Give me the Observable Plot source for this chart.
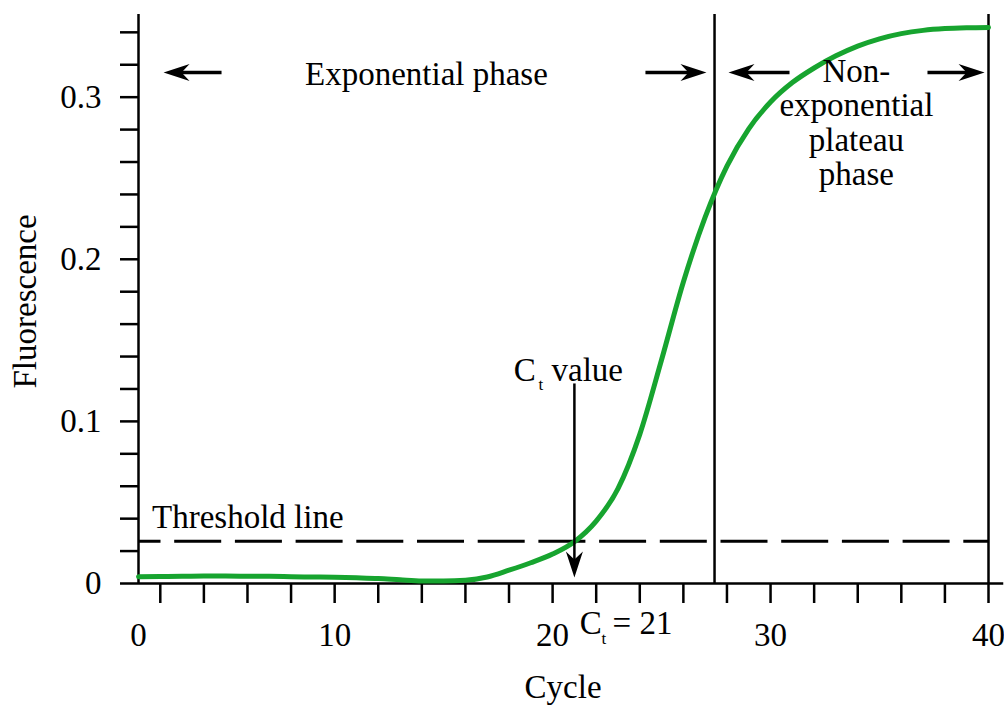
<!DOCTYPE html>
<html>
<head>
<meta charset="utf-8">
<script src="https://cdn.jsdelivr.net/npm/d3@7"></script>
<script src="https://cdn.jsdelivr.net/npm/@observablehq/plot@0.6"></script>
<style>
  html, body { margin: 0; padding: 0; background: #fff; }
</style>
</head>
<body>
<div id="chart"></div>
<script>
// ---- data ----
const cycles = [1,2,3,4,5,6,7,8,9,10,11,12,13,14,15,16,17,18,19,20,21,22,23,24,25,26,27,28,29,30,31,32,33,34,35,36,37,38,39,40];
const fluorescence = [0.0042,0.0043,0.0044,0.0046,0.0046,0.0045,0.0044,0.0042,0.0040,0.0038,
                      0.0035,0.0031,0.0023,0.0016,0.0015,0.0020,0.0040,0.0082,0.0128,0.0182,
                      0.0258,0.0385,0.0585,0.0920,0.1380,0.1860,0.2260,0.2575,0.2805,0.2970,
                      0.3090,0.3180,0.3255,0.3315,0.3360,0.3392,0.3412,0.3423,0.3428,0.3430];
const yTicks = [0,0.02,0.04,0.06,0.08,0.1,0.12,0.14,0.16,0.18,0.2,0.22,0.24,0.26,0.28,0.3,0.32,0.34];
const yTickLabels = [0,0.1,0.2,0.3];
const xTicks = [2,4,6,8,10,12,14,16,18,20,22,24,26,28,30,32,34,36,38,40];
const xTickLabels = [1,10,20,30,40];          // first cycle sits at the axis, labelled "0"
const threshold = 0.026;
const ctCycle = 21;
const phaseBoundaries = [27.43, 40];

// annotation arrows (tail -> tip), in data units
const phaseArrows = [
  {x1: 4.81, x2: 2.15, y: 0.3152, dir: "left"},
  {x1: 24.26, x2: 27.06, y: 0.3152, dir: "right"},
  {x1: 30.87, x2: 28.07, y: 0.3152, dir: "left"},
  {x1: 37.20, x2: 39.82, y: 0.3152, dir: "right"}
];
const ctArrow = [{x: ctCycle, y1: 0.1234, y2: 0.0037, dir: "down"}];

// annotation texts
const textsStart = [
  {text: "Threshold line", x: 1.62, y: 0.0408},
  {text: "C", x: 18.22, y: 0.1315},
  {text: "value", x: 19.95, y: 0.1315},
  {text: "C", x: 21.25, y: -0.0246},
  {text: "= 21", x: 22.75, y: -0.0246}
];
const textsMiddle = [
  {text: "Exponential phase", x: 14.21, y: 0.3141},
  {text: "Cycle", x: 20.48, y: -0.0640}
];
const subscripts = [
  {text: "t", x: 19.35, y: 0.1230},
  {text: "t", x: 22.24, y: -0.0337}
];
const plateauText = [{text: "Non-\nexponential\nplateau\nphase", x: 33.94, y: 0.2844}];
const yLabel = [{text: "Fluorescence", x: -4.19, y: 0.174}];

// ---- helpers ----
function dart(angleDeg) {
  const a = angleDeg * Math.PI / 180, L = 26, W = 8.5, N = 18;
  const pts = [[0, 0], [-L, -W], [-N, 0], [-L, W]].map(([x, y]) =>
    [x * Math.cos(a) - y * Math.sin(a), x * Math.sin(a) + y * Math.cos(a)]);
  return {
    draw(ctx) {
      ctx.moveTo(pts[0][0], pts[0][1]);
      for (let i = 1; i < pts.length; ++i) ctx.lineTo(pts[i][0], pts[i][1]);
      ctx.closePath();
    }
  };
}

const series = cycles.map((c, i) => ({cycle: c, value: fluorescence[i]}));
const black = "#000";
const green = "#17a42f";
const FS = 33;

const chart = Plot.plot({
  width: 1004,
  height: 705,
  marginLeft: 138,
  marginRight: 16,
  marginTop: 14,
  marginBottom: 122,
  x: {domain: [1, 40]},
  y: {domain: [0, 0.351]},
  style: {fontFamily: "'Liberation Serif', 'Times New Roman', serif", fontSize: FS + "px", background: "#fff", color: "#000"},
  marks: [
    // axes
    Plot.axisY(yTicks, {tickSize: 18, tickFormat: () => "", strokeWidth: 2.5, label: null}),
    Plot.axisY(yTickLabels, {tickSize: 0, tickPadding: 37, tickFormat: d => String(d), label: null, fontSize: FS}),
    Plot.axisX(xTicks, {tickSize: 20, tickFormat: () => "", strokeWidth: 2.5, label: null}),
    Plot.axisX(xTickLabels, {tickSize: 0, tickPadding: 39, tickFormat: d => d === 1 ? "0" : String(d), label: null, fontSize: FS}),
    Plot.ruleX([1], {y1: 0, y2: 0.351, stroke: black, strokeWidth: 2.5}),
    Plot.ruleY([0], {x1: 1, x2: 40.7, stroke: black, strokeWidth: 2.5}),
    // phase boundaries
    Plot.ruleX(phaseBoundaries, {y1: 0, y2: 0.351, stroke: black, strokeWidth: 2.5}),
    // threshold
    Plot.ruleY([threshold], {x1: 1, x2: 40, stroke: black, strokeWidth: 3, strokeDasharray: "47,13.7", strokeDashoffset: 24.5}),
    // amplification curve
    Plot.line(series, {x: "cycle", y: "value", curve: "monotone-x", stroke: green, strokeWidth: 5}),
    // arrows
    Plot.arrow(phaseArrows, {x1: "x1", x2: "x2", y1: "y", y2: "y", headLength: 0, insetEnd: 14, stroke: black, strokeWidth: 3.5, strokeLinecap: "butt"}),
    Plot.dot(phaseArrows.filter(d => d.dir === "left"), {x: "x2", y: "y", symbol: dart(180), fill: black}),
    Plot.dot(phaseArrows.filter(d => d.dir === "right"), {x: "x2", y: "y", symbol: dart(0), fill: black}),
    Plot.arrow(ctArrow, {x1: "x", x2: "x", y1: "y1", y2: "y2", headLength: 0, insetEnd: 14, stroke: black, strokeWidth: 2.5, strokeLinecap: "butt"}),
    Plot.dot(ctArrow, {x: "x", y: "y2", symbol: dart(90), fill: black}),
    // texts
    Plot.text(textsStart, {x: "x", y: "y", text: "text", textAnchor: "start", fill: black, fontSize: FS}),
    Plot.text(textsMiddle, {x: "x", y: "y", text: "text", textAnchor: "middle", fill: black, fontSize: FS}),
    Plot.text(subscripts, {x: "x", y: "y", text: "text", textAnchor: "start", fill: black, fontSize: 17}),
    Plot.text(plateauText, {x: "x", y: "y", text: "text", textAnchor: "middle", lineHeight: 1.04, fill: black, fontSize: FS}),
    Plot.text(yLabel, {x: "x", y: "y", text: "text", rotate: -90, textAnchor: "middle", fill: black, fontSize: FS})
  ]
});
document.getElementById("chart").appendChild(chart);
</script>
</body>
</html>
